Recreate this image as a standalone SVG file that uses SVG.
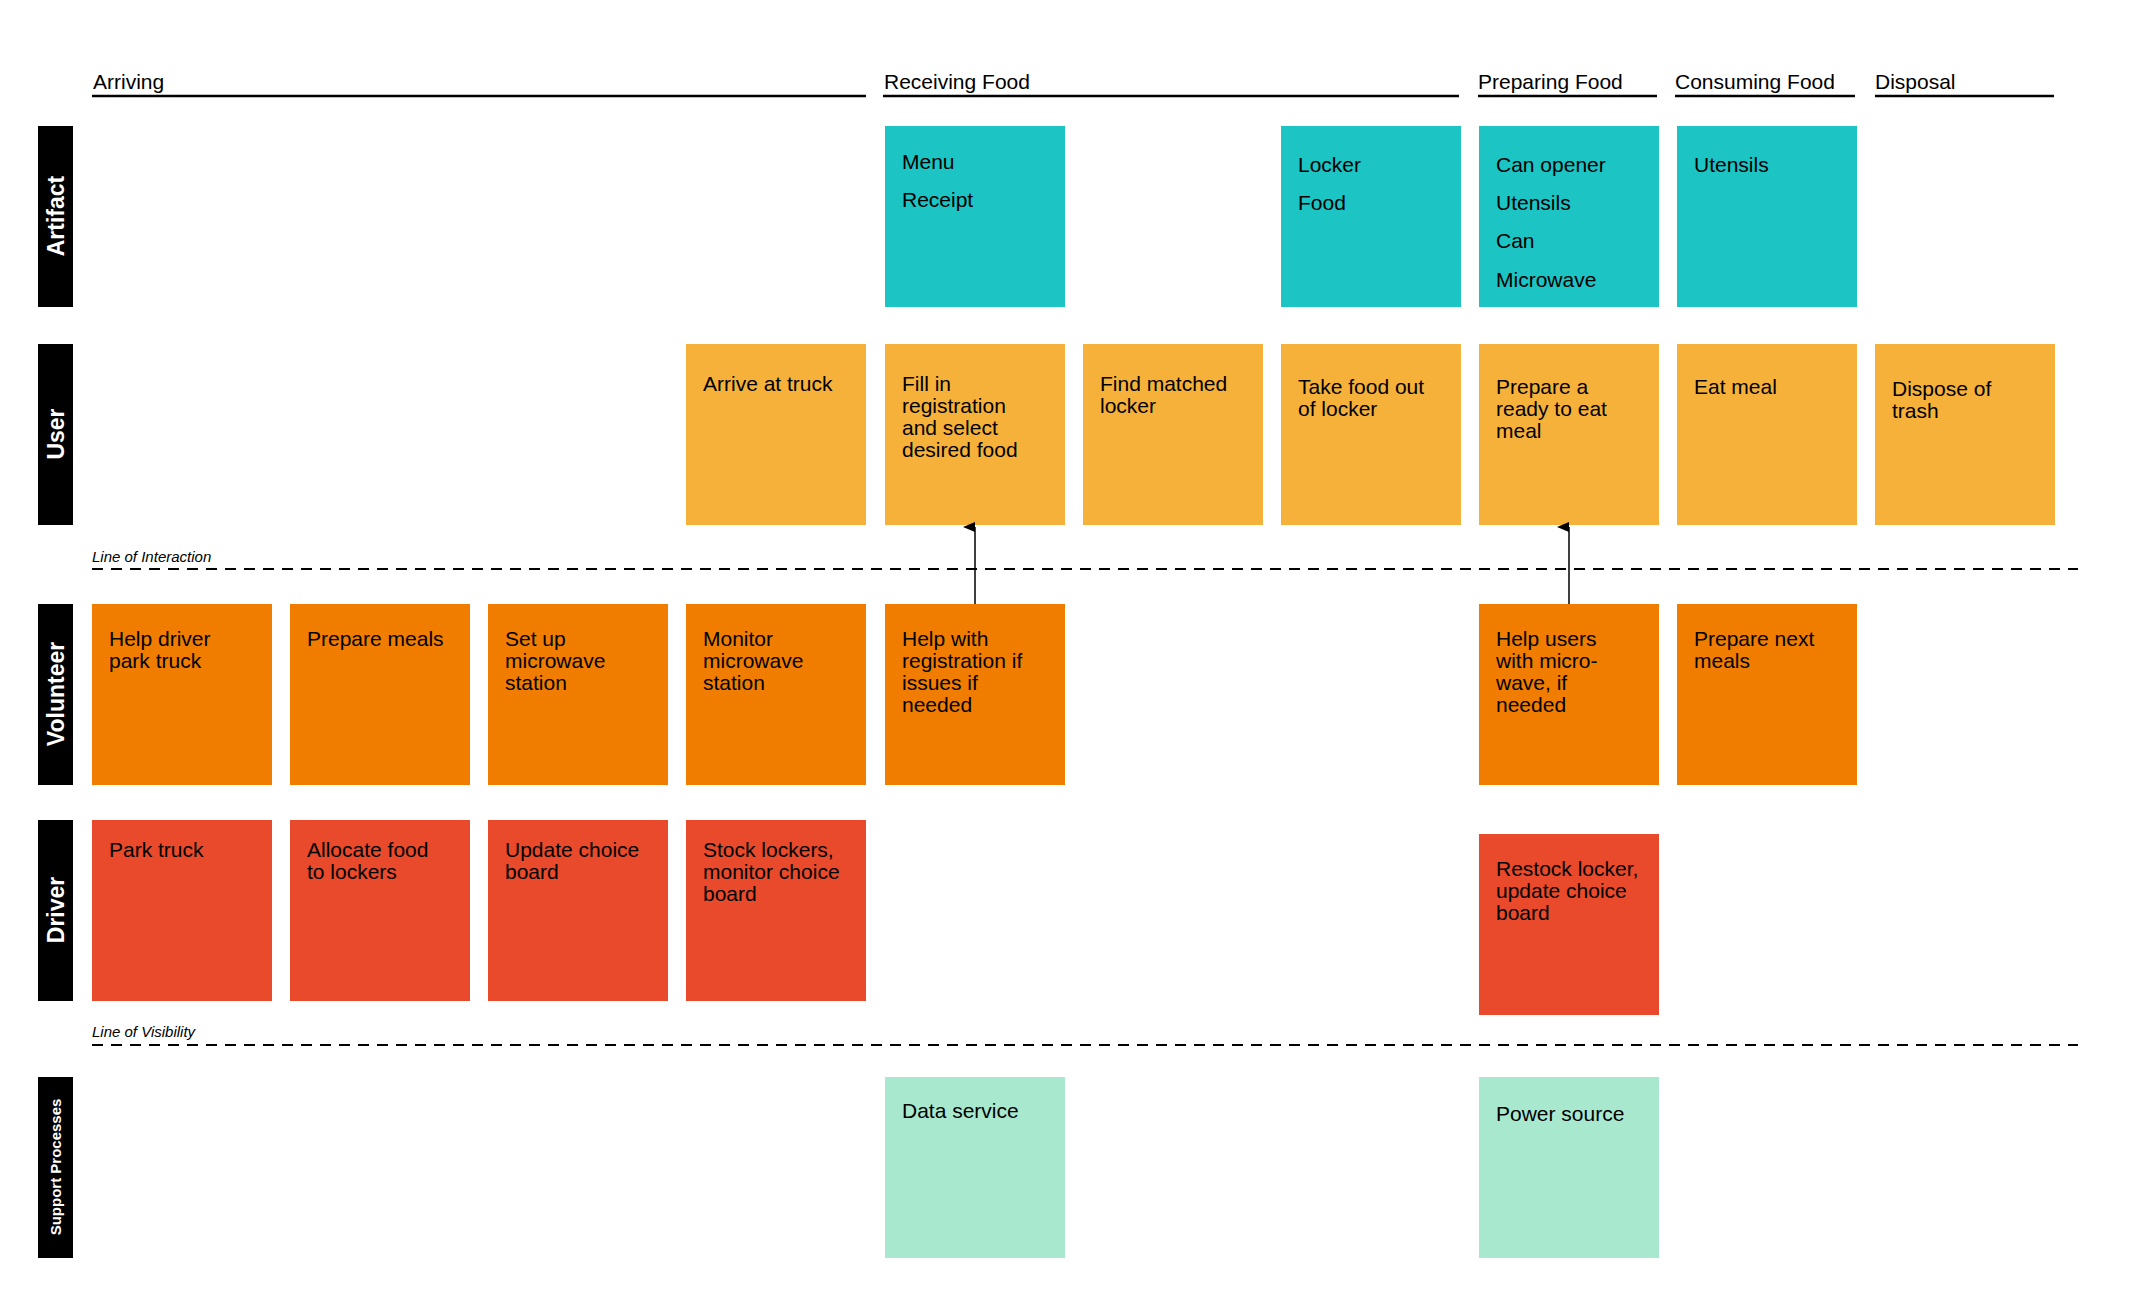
<svg xmlns="http://www.w3.org/2000/svg" width="2137" height="1296" viewBox="0 0 2137 1296">
<style>
text{font-family:"Liberation Sans",Arial,sans-serif;fill:#000}
.t{font-size:21px}
.h{font-size:21px}
.lane{font-size:23px;font-weight:bold;fill:#fff}
.it{font-size:15px;font-style:italic}
.bar{fill:#000}
.hl{stroke:#000;stroke-width:2.5}
.dash{stroke:#000;stroke-width:2;stroke-dasharray:11 8}
.a{fill:#1CC4C4}.u{fill:#F6B13A}.v{fill:#F07D00}.d{fill:#E84A2B}.s{fill:#A8E8CE}
</style>
<defs><marker id="ah" markerWidth="10" markerHeight="12" refX="5" refY="12" orient="auto-start-reverse" markerUnits="userSpaceOnUse" viewBox="0 0 10 12"><path d="M0,12 L5,0 L10,12 Z" fill="#000"/></marker></defs>
<g id="headers">
<text class="h" x="93" y="89">Arriving</text><line class="hl" x1="92" y1="96" x2="866" y2="96"/>
<text class="h" x="884" y="89">Receiving Food</text><line class="hl" x1="883" y1="96" x2="1459" y2="96"/>
<text class="h" x="1478" y="89">Preparing Food</text><line class="hl" x1="1478" y1="96" x2="1657" y2="96"/>
<text class="h" x="1675" y="89">Consuming Food</text><line class="hl" x1="1675" y1="96" x2="1855" y2="96"/>
<text class="h" x="1875" y="89">Disposal</text><line class="hl" x1="1875" y1="96" x2="2054" y2="96"/>
</g>
<g id="lanes">
<rect class="bar" x="38" y="126" width="35" height="181"/><text class="lane" transform="translate(64,216) rotate(-90)" text-anchor="middle">Artifact</text>
<rect class="bar" x="38" y="344" width="35" height="181"/><text class="lane" transform="translate(64,434) rotate(-90)" text-anchor="middle">User</text>
<rect class="bar" x="38" y="604" width="35" height="181"/><text class="lane" transform="translate(64,694) rotate(-90)" text-anchor="middle">Volunteer</text>
<rect class="bar" x="38" y="820" width="35" height="181"/><text class="lane" transform="translate(64,910) rotate(-90)" text-anchor="middle">Driver</text>
<rect class="bar" x="38" y="1077" width="35" height="181"/><text class="lane" style="font-size:15px" transform="translate(61,1167) rotate(-90)" text-anchor="middle">Support Processes</text>
</g>
<g id="lines">
<text class="it" x="92" y="562">Line of Interaction</text>
<line class="dash" x1="92" y1="569" x2="2078" y2="569"/>
<text class="it" x="92" y="1037">Line of Visibility</text>
<line class="dash" x1="92" y1="1045" x2="2078" y2="1045"/>
</g>
<g id="n-a1"><rect class="a" x="885" y="126" width="180" height="181"/><text class="t" x="902" y="169">Menu</text><text class="t" x="902" y="207">Receipt</text></g>
<g id="n-a2"><rect class="a" x="1281" y="126" width="180" height="181"/><text class="t" x="1298" y="172">Locker</text><text class="t" x="1298" y="210">Food</text></g>
<g id="n-a3"><rect class="a" x="1479" y="126" width="180" height="181"/><text class="t" x="1496" y="172">Can opener</text><text class="t" x="1496" y="210">Utensils</text><text class="t" x="1496" y="248">Can</text><text class="t" x="1496" y="287">Microwave</text></g>
<g id="n-a4"><rect class="a" x="1677" y="126" width="180" height="181"/><text class="t" x="1694" y="172">Utensils</text></g>
<g id="n-u1"><rect class="u" x="686" y="344" width="180" height="181"/><text class="t" x="703" y="391">Arrive at truck</text></g>
<g id="n-u2"><rect class="u" x="885" y="344" width="180" height="181"/><text class="t" x="902" y="391">Fill in</text><text class="t" x="902" y="413">registration</text><text class="t" x="902" y="435">and select</text><text class="t" x="902" y="457">desired food</text></g>
<g id="n-u3"><rect class="u" x="1083" y="344" width="180" height="181"/><text class="t" x="1100" y="391">Find matched</text><text class="t" x="1100" y="413">locker</text></g>
<g id="n-u4"><rect class="u" x="1281" y="344" width="180" height="181"/><text class="t" x="1298" y="394">Take food out</text><text class="t" x="1298" y="416">of locker</text></g>
<g id="n-u5"><rect class="u" x="1479" y="344" width="180" height="181"/><text class="t" x="1496" y="394">Prepare a</text><text class="t" x="1496" y="416">ready to eat</text><text class="t" x="1496" y="438">meal</text></g>
<g id="n-u6"><rect class="u" x="1677" y="344" width="180" height="181"/><text class="t" x="1694" y="394">Eat meal</text></g>
<g id="n-u7"><rect class="u" x="1875" y="344" width="180" height="181"/><text class="t" x="1892" y="396">Dispose of</text><text class="t" x="1892" y="418">trash</text></g>
<g id="n-v1"><rect class="v" x="92" y="604" width="180" height="181"/><text class="t" x="109" y="646">Help driver</text><text class="t" x="109" y="668">park truck</text></g>
<g id="n-v2"><rect class="v" x="290" y="604" width="180" height="181"/><text class="t" x="307" y="646">Prepare meals</text></g>
<g id="n-v3"><rect class="v" x="488" y="604" width="180" height="181"/><text class="t" x="505" y="646">Set up</text><text class="t" x="505" y="668">microwave</text><text class="t" x="505" y="690">station</text></g>
<g id="n-v4"><rect class="v" x="686" y="604" width="180" height="181"/><text class="t" x="703" y="646">Monitor</text><text class="t" x="703" y="668">microwave</text><text class="t" x="703" y="690">station</text></g>
<g id="n-v5"><rect class="v" x="885" y="604" width="180" height="181"/><text class="t" x="902" y="646">Help with</text><text class="t" x="902" y="668">registration if</text><text class="t" x="902" y="690">issues if</text><text class="t" x="902" y="712">needed</text></g>
<g id="n-v6"><rect class="v" x="1479" y="604" width="180" height="181"/><text class="t" x="1496" y="646">Help users</text><text class="t" x="1496" y="668">with micro-</text><text class="t" x="1496" y="690">wave, if</text><text class="t" x="1496" y="712">needed</text></g>
<g id="n-v7"><rect class="v" x="1677" y="604" width="180" height="181"/><text class="t" x="1694" y="646">Prepare next</text><text class="t" x="1694" y="668">meals</text></g>
<g id="n-d1"><rect class="d" x="92" y="820" width="180" height="181"/><text class="t" x="109" y="857">Park truck</text></g>
<g id="n-d2"><rect class="d" x="290" y="820" width="180" height="181"/><text class="t" x="307" y="857">Allocate food</text><text class="t" x="307" y="879">to lockers</text></g>
<g id="n-d3"><rect class="d" x="488" y="820" width="180" height="181"/><text class="t" x="505" y="857">Update choice</text><text class="t" x="505" y="879">board</text></g>
<g id="n-d4"><rect class="d" x="686" y="820" width="180" height="181"/><text class="t" x="703" y="857">Stock lockers,</text><text class="t" x="703" y="879">monitor choice</text><text class="t" x="703" y="901">board</text></g>
<g id="n-d5"><rect class="d" x="1479" y="834" width="180" height="181"/><text class="t" x="1496" y="876">Restock locker,</text><text class="t" x="1496" y="898">update choice</text><text class="t" x="1496" y="920">board</text></g>
<g id="n-s1"><rect class="s" x="885" y="1077" width="180" height="181"/><text class="t" x="902" y="1118">Data service</text></g>
<g id="n-s2"><rect class="s" x="1479" y="1077" width="180" height="181"/><text class="t" x="1496" y="1121">Power source</text></g>
<g id="connectors" stroke="#000" stroke-width="1.5">
<line x1="975" y1="604" x2="975" y2="527" marker-end="url(#ah)"/>
<line x1="1569" y1="604" x2="1569" y2="527" marker-end="url(#ah)"/>
</g>
</svg>
